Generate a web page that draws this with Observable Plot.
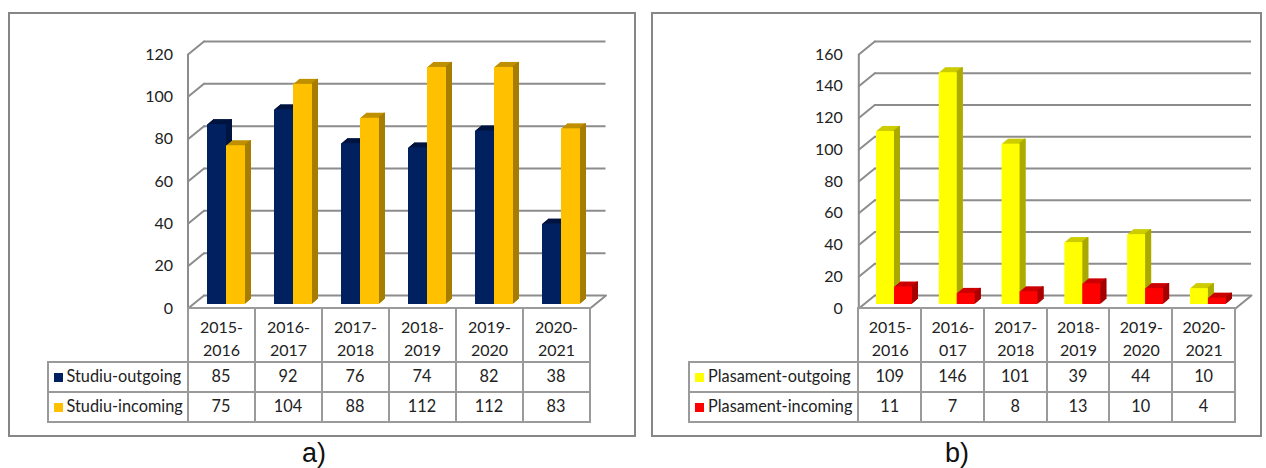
<!DOCTYPE html>
<html>
<head>
<meta charset="utf-8">
<script src="https://cdn.jsdelivr.net/npm/d3@7"></script>
<script src="https://cdn.jsdelivr.net/npm/@observablehq/plot@0.6"></script>
<style>
  html, body { margin: 0; padding: 0; background: #fff; }
  #stage { position: relative; width: 1266px; height: 468px; overflow: hidden; font-family: Lato, sans-serif; color: #222; }
  .panel { position: absolute; box-sizing: border-box; border: 2px solid #868686; top: 12px; height: 425px; }
  .plot { position: absolute; top: 0; }
  .plot svg { display: block; overflow: visible; background: none; }
  table.data { position: absolute; border-collapse: collapse; table-layout: fixed; font: 16.3px Lato, sans-serif; color: #222; }
  table.data td { border: 2px solid #9a9a9a; padding: 0 0 2px 0; text-align: center; box-sizing: border-box; height: 30.3px; white-space: nowrap; overflow: visible; }
  table.data tr.head td { height: 54px; }
  table.data tr.head td.blank { border-top: none; border-left: none; }
  table.data td.name { text-align: left; padding-left: 5px; }
  .swatch { display: inline-block; width: 9px; height: 9px; margin-right: 4px; }
  .cap { position: absolute; top: 439.5px; height: 26px; line-height: 26px; font-size: 27px; font-family: "Liberation Sans", Arial, sans-serif; color: #111; }
</style>
</head>
<body>
<div id="stage"></div>
<script>
// ---- data ----
const yearsA = ["2015-\n2016", "2016-\n2017", "2017-\n2018", "2018-\n2019", "2019-\n2020", "2020-\n2021"];
const yearsB = ["2015-\n2016", "2016-\n017", "2017-\n2018", "2018-\n2019", "2019-\n2020", "2020-\n2021"];
const studiuOutgoing = [85, 92, 76, 74, 82, 38];
const studiuIncoming = [75, 104, 88, 112, 112, 83];
const plasamentOutgoing = [109, 146, 101, 39, 44, 10];
const plasamentIncoming = [11, 7, 8, 13, 10, 4];
const ticksA = [0, 20, 40, 60, 80, 100, 120];
const ticksB = [0, 20, 40, 60, 80, 100, 120, 140, 160];

const gridColor = "#8c8c8c";
const wallDx = 16, wallDy = 13, wallLen = Math.hypot(wallDx, wallDy), wallAngle = Math.atan2(wallDx, wallDy) * 180 / Math.PI;
const depthX = 6, depthStep = 5 / 6;
const lineShape = { draw(c, l) { c.moveTo(0, 0); c.lineTo(0, -l); }, r: 0 };

function bar3d(values, years, s) {
  const opts = { x: (d, i) => years[i], y: d => d };
  const out = [];
  for (let k = depthX; k >= 1; k--) {
    out.push(Plot.barY(values, { ...opts, fill: s.top, insetLeft: s.left, insetRight: s.right, dx: k, dy: -4 - k * depthStep }));
  }
  for (let k = depthX; k >= 1; k--) {
    out.push(Plot.barY(values, { ...opts, fill: s.side, insetLeft: s.left + s.w - 1.4, insetRight: s.right, dx: k, dy: -4 - k * depthStep }));
  }
  out.push(Plot.barY(values, { ...opts, fill: s.front, insetLeft: s.left, insetRight: s.right, dy: -4 }));
  return out;
}

function panel(cfg) {
  const stage = document.getElementById("stage");
  const box = document.createElement("div");
  box.className = "panel";
  box.style.left = cfg.panelLeft + "px";
  box.style.width = cfg.panelWidth + "px";
  stage.appendChild(box);

  const lastYear = cfg.years[cfg.years.length - 1];
  const colW = (cfg.x1 - cfg.x0) / cfg.years.length;
  const chart = Plot.plot({
    width: cfg.width,
    height: 437,
    marginLeft: cfg.x0,
    marginRight: cfg.width - cfg.x1 - wallDx,
    marginTop: 54,
    marginBottom: 437 - 308,
    style: { fontFamily: "Lato, sans-serif", fontSize: "16px", color: "#222", background: "none" },
    x: { type: "band", domain: cfg.years, range: [cfg.x0, cfg.x1], padding: 0, round: false },
    y: { domain: cfg.yDomain, range: [308, 54] },
    marks: [
      Plot.ruleY(cfg.ticks, { y: d => d, dy: -wallDy, insetLeft: wallDx, stroke: gridColor, strokeWidth: 2 }),
      Plot.vector(cfg.ticks, { y: d => d, frameAnchor: "left", length: wallLen, rotate: wallAngle, anchor: "start", shape: lineShape, stroke: gridColor, strokeWidth: 2 }),
      Plot.vector([0], { x: () => lastYear, y: d => d, dx: colW / 2, length: wallLen, rotate: wallAngle, anchor: "start", shape: lineShape, stroke: gridColor, strokeWidth: 2 }),
      Plot.ruleX([0], { x: () => cfg.years[0], y1: cfg.yDomain[0], y2: cfg.yDomain[1], dx: -colW / 2, stroke: gridColor, strokeWidth: 2 }),
      ...bar3d(cfg.seriesA.values, cfg.years, cfg.seriesA),
      ...bar3d(cfg.seriesB.values, cfg.years, cfg.seriesB),
      Plot.axisY({ ticks: cfg.ticks, tickSize: 0, tickPadding: cfg.tickPad, anchor: "left", label: null, fill: "#222" }),
      Plot.axisX({ tickSize: 0, tickPadding: 8, anchor: "bottom", label: null, fill: "#222", lineHeight: 1.45 })
    ]
  });
  const holder = document.createElement("div");
  holder.className = "plot";
  holder.style.left = cfg.plotLeft + "px";
  holder.appendChild(chart);
  stage.appendChild(holder);

  // data table under the axis, drawn from the same arrays
  const table = document.createElement("table");
  table.className = "data";
  table.style.left = (cfg.plotLeft + cfg.tableLeft - 1) + "px";
  table.style.top = "306.5px";
  table.style.width = (cfg.x0 - cfg.tableLeft + colW * cfg.years.length) + "px";
  const cols = document.createElement("colgroup");
  [cfg.x0 - cfg.tableLeft, ...cfg.years.map(() => colW)].forEach(w => {
    const c = document.createElement("col");
    c.style.width = w + "px";
    cols.appendChild(c);
  });
  table.appendChild(cols);
  const head = document.createElement("tr");
  head.className = "head";
  head.innerHTML = `<td class="blank"></td>` + cfg.years.map(() => "<td></td>").join("");
  table.appendChild(head);
  [cfg.seriesA, cfg.seriesB].forEach(s => {
    const tr = document.createElement("tr");
    tr.innerHTML = `<td class="name"><span class="swatch" style="background:${s.front}"></span>${s.name}</td>` + s.values.map(v => `<td>${v}</td>`).join("");
    table.appendChild(tr);
  });
  stage.appendChild(table);

  const cap = document.createElement("div");
  cap.className = "cap";
  cap.style.left = cfg.capLeft + "px";
  cap.textContent = cfg.caption;
  stage.appendChild(cap);
}

panel({
  panelLeft: 8, panelWidth: 628, plotLeft: 0, width: 640,
  x0: 187.5, x1: 589.5, tableLeft: 47.5, tickPad: 15,
  years: yearsA, ticks: ticksA, yDomain: [0, 120],
  seriesA: { name: "Studiu-outgoing", values: studiuOutgoing, front: "#002060", side: "#001440", top: "#001440", left: 19.5, right: 28.5, w: 19 },
  seriesB: { name: "Studiu-incoming", values: studiuIncoming, front: "#ffc000", side: "#a67d00", top: "#bf9000", left: 38.5, right: 9.5, w: 19 },
  caption: "a)", capLeft: 302
});

panel({
  panelLeft: 651, panelWidth: 611, plotLeft: 640, width: 626,
  x0: 218.3, x1: 595, tableLeft: 49, tickPad: 16,
  years: yearsB, ticks: ticksB, yDomain: [0, 160],
  seriesA: { name: "Plasament-outgoing", values: plasamentOutgoing, front: "#ffff00", side: "#a9a900", top: "#cccc00", left: 17.7, right: 27.1, w: 18 },
  seriesB: { name: "Plasament-incoming", values: plasamentIncoming, front: "#ff0000", side: "#a60000", top: "#cc0000", left: 35.7, right: 9.1, w: 18 },
  caption: "b)", capLeft: 945
});
</script>
</body>
</html>
